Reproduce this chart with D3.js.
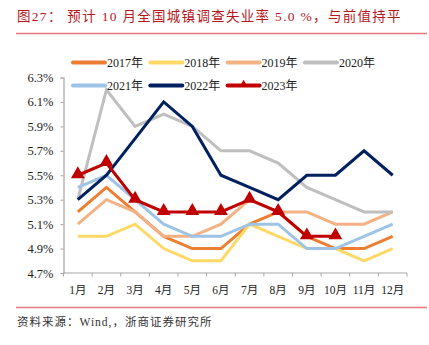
<!DOCTYPE html>
<html>
<head>
<meta charset="utf-8">
<script src="https://cdn.jsdelivr.net/npm/d3@7"></script>
<style>
  body { margin: 0; background: #fff; }
  text { font-family: "Liberation Serif", "Noto Sans CJK SC", serif; }
</style>
</head>
<body>
<svg id="chart" width="429" height="345"></svg>
<script>
const months = ["1月","2月","3月","4月","5月","6月","7月","8月","9月","10月","11月","12月"];
const yTicks = [4.7, 4.9, 5.1, 5.3, 5.5, 5.7, 5.9, 6.1, 6.3];

const y2017 = [5.2, 5.4, 5.2, 5.0, 4.9, 4.9, 5.1, 5.2, 5.0, 4.9, 4.9, 5.0];
const y2018 = [5.0, 5.0, 5.1, 4.9, 4.8, 4.8, 5.1, 5.0, 4.9, 4.9, 4.8, 4.9];
const y2019 = [5.1, 5.3, 5.2, 5.0, 5.0, 5.1, 5.3, 5.2, 5.2, 5.1, 5.1, 5.2];
const y2020 = [5.3, 6.2, 5.9, 6.0, 5.9, 5.7, 5.7, 5.6, 5.4, 5.3, 5.2, 5.2];
const y2021 = [5.4, 5.5, 5.3, 5.1, 5.0, 5.0, 5.1, 5.1, 4.9, 4.9, 5.0, 5.1];
const y2022 = [5.3, 5.5, 5.8, 6.1, 5.9, 5.5, 5.4, 5.3, 5.5, 5.5, 5.7, 5.5];
const y2023 = [5.5, 5.6, 5.3, 5.2, 5.2, 5.2, 5.3, 5.2, 5.0, 5.0];

const series = [
    { name: "2017年", values: y2017, color: "#ED7D31" },
    { name: "2018年", values: y2018, color: "#FFD966" },
    { name: "2019年", values: y2019, color: "#F4B183" },
    { name: "2020年", values: y2020, color: "#BFBFBF" },
    { name: "2021年", values: y2021, color: "#9DC3E6" },
    { name: "2022年", values: y2022, color: "#002060" },
    { name: "2023年", values: y2023, color: "#C00000", marker: true }
];

const svg = d3.select("#chart");

// title + rules
svg.append("text")
    .attr("x", 17).attr("y", 21)
    .attr("fill", "#B8161C")
    .attr("font-size", 13.5)
    .attr("letter-spacing", 1.3)
    .text("图27：  预计 10 月全国城镇调查失业率 5.0 %，与前值持平");

svg.append("line").attr("x1", 16).attr("x2", 427).attr("y1", 33.5).attr("y2", 33.5)
    .attr("stroke", "#E8787B").attr("stroke-width", 1.5);
svg.append("line").attr("x1", 16).attr("x2", 427).attr("y1", 307.5).attr("y2", 307.5)
    .attr("stroke", "#E8787B").attr("stroke-width", 1.5);

svg.append("text")
    .attr("x", 17).attr("y", 326)
    .attr("fill", "#333")
    .attr("font-size", 11.5)
    .attr("letter-spacing", 1)
    .text("资料来源：Wind,，浙商证券研究所");

// scales
const x = d3.scaleBand().domain(months).range([63.5, 407]);
const y = d3.scaleLinear().domain([4.7, 6.3]).range([273, 77.5]);

// y axis
const yAxis = d3.axisLeft(y)
    .tickValues(yTicks)
    .tickFormat(d => d.toFixed(1) + "%")
    .tickSize(3)
    .tickPadding(7);

svg.append("g")
    .attr("transform", "translate(63.5,0)")
    .call(yAxis)
    .call(g => g.select(".domain").attr("stroke", "#A6A6A6").attr("stroke-width", 1.2))
    .call(g => g.selectAll(".tick line").attr("stroke", "#A6A6A6"))
    .call(g => g.selectAll(".tick text")
        .attr("font-size", 12.5)
        .attr("fill", "#222")
        .style("font-family", "'Liberation Serif', serif"));

// x axis: ticks at band boundaries
const xg = svg.append("g").attr("transform", "translate(0,273)");
xg.append("line").attr("x1", 63.5).attr("x2", 407)
    .attr("stroke", "#A6A6A6").attr("stroke-width", 1.2);
const edges = months.map(m => x(m)).concat([x.range()[1]]);
xg.selectAll(".edge")
    .data(edges)
    .join("line")
    .attr("class", "edge")
    .attr("x1", d => d).attr("x2", d => d)
    .attr("y1", 0).attr("y2", 3.5)
    .attr("stroke", "#A6A6A6");
xg.selectAll(".lab")
    .data(months)
    .join("text")
    .attr("class", "lab")
    .attr("x", d => x(d) + x.bandwidth() / 2)
    .attr("y", 21)
    .attr("text-anchor", "middle")
    .attr("font-size", 11.5)
    .attr("fill", "#222")
    .text(d => d);

// lines
const line = d3.line()
    .x((d, i) => x(months[i]) + x.bandwidth() / 2)
    .y(d => y(d));

svg.append("g").selectAll("path")
    .data(series)
    .join("path")
    .attr("d", d => line(d.values))
    .attr("fill", "none")
    .attr("stroke", d => d.color)
    .attr("stroke-width", 3)
    .attr("stroke-linejoin", "miter");

// triangle markers for 2023
const tri = d3.symbol().type(d3.symbolTriangle).size(82);
svg.append("g").selectAll("path")
    .data(y2023)
    .join("path")
    .attr("transform", (d, i) => `translate(${x(months[i]) + x.bandwidth() / 2},${y(d) - 1})`)
    .attr("d", tri)
    .attr("fill", "#C00000");

// legend
const legend = svg.append("g");
const items = legend.selectAll("g")
    .data(series)
    .join("g")
    .attr("transform", (d, i) => `translate(${73 + (i % 4) * 77.3},${i < 4 ? 62.5 : 85.5})`);
items.append("line")
    .attr("x1", 0).attr("x2", 32)
    .attr("stroke", d => d.color)
    .attr("stroke-width", 4)
    .attr("stroke-linecap", "round");
items.filter(d => d.marker).append("path")
    .attr("d", d3.symbol().type(d3.symbolTriangle).size(30))
    .attr("transform", "translate(16,-1)")
    .attr("fill", "#C00000");
items.append("text")
    .attr("x", 34).attr("y", 4.5)
    .attr("font-size", 12)
    .attr("fill", "#222")
    .text(d => d.name);
</script>
</body>
</html>
